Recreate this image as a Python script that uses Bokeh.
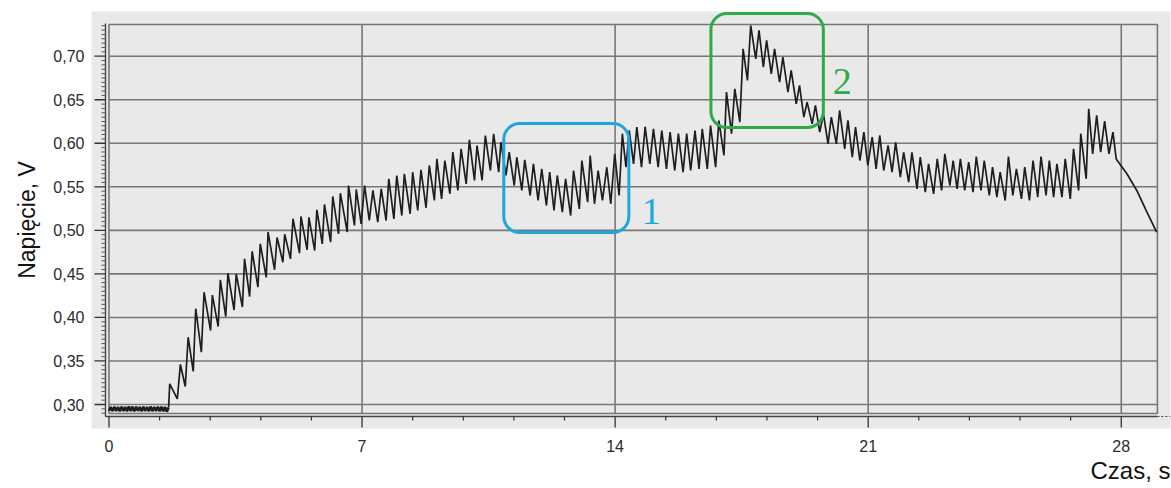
import math
from bokeh.plotting import figure
from bokeh.models import FixedTicker, Label, BoxAnnotation, Range1d, Title
from bokeh.embed import file_html
from bokeh.resources import INLINE

# ---------------- data ----------------
# quiet start, noisy flat band around 0.295 V
flat_t = [0.00, 0.05, 0.10, 0.15, 0.20, 0.25, 0.30, 0.35, 0.40, 0.45, 0.50, 0.55,
          0.60, 0.65, 0.70, 0.75, 0.80, 0.85, 0.90, 0.95, 1.00, 1.05, 1.10, 1.15,
          1.20, 1.25, 1.30, 1.35, 1.40, 1.45, 1.50, 1.55, 1.60, 1.65]
flat_v = [0.2928, 0.2972, 0.2924, 0.2975, 0.2926, 0.2971, 0.2922, 0.2974, 0.2925, 0.2972,
          0.2923, 0.2976, 0.2926, 0.2973, 0.2922, 0.2975, 0.2927, 0.2971, 0.2923, 0.2974,
          0.2925, 0.2972, 0.2922, 0.2976, 0.2924, 0.2972, 0.2926, 0.2974, 0.2922, 0.2973,
          0.2924, 0.2971, 0.2918, 0.2965]

# sawtooth part: alternating peaks and troughs
saw_t = [1.68, 1.89, 1.975, 2.11, 2.19, 2.33, 2.40, 2.555, 2.63, 2.81, 2.86, 3.02,
         3.08, 3.23, 3.29, 3.46, 3.52, 3.69, 3.75, 3.89, 3.96, 4.12, 4.185, 4.35,
         4.40, 4.58, 4.65, 4.81, 4.86, 5.02, 5.09, 5.27, 5.31, 5.48, 5.53, 5.69,
         5.75, 5.90, 5.96, 6.13, 6.19, 6.35, 6.40, 6.59, 6.625, 6.79, 6.84, 6.975,
         7.07, 7.20, 7.30, 7.435, 7.53, 7.666, 7.74, 7.88, 7.96, 8.10, 8.17, 8.33,
         8.40, 8.54, 8.63, 8.77, 8.86, 9.00, 9.07, 9.20, 9.29, 9.43, 9.51, 9.65,
         9.74, 9.88, 9.97, 10.11, 10.18, 10.32, 10.41, 10.55, 10.64, 10.78, 10.84, 10.98,
         11.07, 11.21, 11.28, 11.42, 11.50, 11.65, 11.74, 11.87, 11.97, 12.10, 12.19, 12.31,
         12.40, 12.54, 12.63, 12.77, 12.85, 13.01, 13.08, 13.24, 13.31, 13.43, 13.53, 13.65,
         13.77, 13.88, 13.99, 14.11, 14.20, 14.30, 14.39, 14.51, 14.60, 14.73, 14.83, 14.96,
         15.06, 15.19, 15.29, 15.42, 15.52, 15.65, 15.75, 15.88, 15.98, 16.09, 16.21, 16.32,
         16.41, 16.55, 16.64, 16.78, 16.87, 17.01, 17.08, 17.22, 17.31, 17.45, 17.54, 17.66,
         17.75, 17.89, 17.98, 18.10, 18.19, 18.32, 18.41, 18.55, 18.64, 18.78, 18.87, 19.01,
         19.10, 19.22, 19.31, 19.45, 19.54, 19.66, 19.76, 19.89, 19.98, 20.12, 20.21, 20.35,
         20.44, 20.56, 20.65, 20.77, 20.88, 20.99, 21.11, 21.22, 21.32, 21.43, 21.55, 21.66,
         21.76, 21.89, 21.98, 22.12, 22.21, 22.35, 22.44, 22.58, 22.67, 22.81, 22.91, 23.03,
         23.12, 23.26, 23.35, 23.46, 23.55, 23.67, 23.78, 23.90, 23.99, 24.12, 24.21, 24.35,
         24.44, 24.56, 24.65, 24.79, 24.88, 25.00, 25.10, 25.24, 25.33, 25.46, 25.56, 25.69,
         25.78, 25.92, 26.01, 26.13, 26.22, 26.36, 26.45, 26.59, 26.68, 26.82, 26.88, 27.03,
         27.10, 27.21, 27.32, 27.43, 27.54, 27.66, 27.77, 27.86, 28.16, 28.43, 28.71, 28.98]
saw_v = [0.3238, 0.3065, 0.3460, 0.3207, 0.3773, 0.3380, 0.4100, 0.3600, 0.4290, 0.3850, 0.4256, 0.3896,
         0.4430, 0.4010, 0.4508, 0.4085, 0.4500, 0.4120, 0.4673, 0.4240, 0.4760, 0.4347, 0.4845, 0.4460,
         0.4980, 0.4547, 0.4918, 0.4634, 0.4956, 0.4672, 0.5133, 0.4738, 0.5160, 0.4776, 0.5150, 0.4768,
         0.5236, 0.4845, 0.5297, 0.4864, 0.5389, 0.4960, 0.5427, 0.4980, 0.5515, 0.5056, 0.5470, 0.5075,
         0.5515, 0.5113, 0.5458, 0.5094, 0.5477, 0.5113, 0.5592, 0.5132, 0.5630, 0.5170, 0.5650, 0.5190,
         0.5668, 0.5228, 0.5695, 0.5259, 0.5745, 0.5343, 0.5822, 0.5362, 0.5802, 0.5420, 0.5898, 0.5458,
         0.5937, 0.5534, 0.6040, 0.5573, 0.5974, 0.5573, 0.6089, 0.5687, 0.6109, 0.5668, 0.6013, 0.5630,
         0.5898, 0.5515, 0.5840, 0.5458, 0.5810, 0.5400, 0.5764, 0.5343, 0.5707, 0.5285, 0.5668, 0.5228,
         0.5630, 0.5209, 0.5592, 0.5170, 0.5687, 0.5247, 0.5802, 0.5323, 0.5860, 0.5305, 0.5687, 0.5343,
         0.5725, 0.5305, 0.5880, 0.5401, 0.6110, 0.5725, 0.6147, 0.5764, 0.6185, 0.5725, 0.6190, 0.5764,
         0.6166, 0.5725, 0.6147, 0.5706, 0.6128, 0.5687, 0.6110, 0.5668, 0.6110, 0.5687, 0.6147, 0.5706,
         0.6166, 0.5706, 0.6204, 0.5725, 0.6260, 0.5860, 0.6587, 0.6110, 0.6625, 0.6243, 0.7085, 0.6721,
         0.7353, 0.6970, 0.7296, 0.6874, 0.7181, 0.6798, 0.7085, 0.6702, 0.6990, 0.6587, 0.6837, 0.6453,
         0.6664, 0.6300, 0.6472, 0.6223, 0.6434, 0.6128, 0.6339, 0.5994, 0.6300, 0.5994, 0.6377, 0.5936,
         0.6262, 0.5840, 0.6185, 0.5802, 0.6128, 0.5745, 0.6070, 0.5707, 0.6090, 0.5687, 0.5975, 0.5668,
         0.6010, 0.5610, 0.5897, 0.5553, 0.5897, 0.5477, 0.5840, 0.5438, 0.5764, 0.5419, 0.5820, 0.5458,
         0.5878, 0.5515, 0.5802, 0.5477, 0.5820, 0.5458, 0.5783, 0.5438, 0.5848, 0.5458, 0.5802, 0.5401,
         0.5726, 0.5381, 0.5668, 0.5343, 0.5848, 0.5401, 0.5707, 0.5362, 0.5726, 0.5343, 0.5802, 0.5381,
         0.5848, 0.5401, 0.5802, 0.5381, 0.5764, 0.5381, 0.5820, 0.5362, 0.5936, 0.5458, 0.6110, 0.5592,
         0.6396, 0.5878, 0.6320, 0.5897, 0.6255, 0.5878, 0.6128, 0.5820, 0.5647, 0.5458, 0.5209, 0.4979]

x_major = [0, 7, 14, 21, 28]
x_major_labels = ["0", "7", "14", "21", "28"]
y_major = [0.30, 0.35, 0.40, 0.45, 0.50, 0.55, 0.60, 0.65, 0.70]
y_major_labels = ["0,30", "0,35", "0,40", "0,45", "0,50", "0,55", "0,60", "0,65", "0,70"]
x_title = "Czas, s"
y_title = "Napięcie, V"

# ---------------- layout constants ----------------
XR = (-0.4836, 29.362)        # grey panel extent, time
YR = (0.27244, 0.75133)       # grey panel extent, volts
FR_L, FR_R, FR_B, FR_T = 0.0, 29.0, 0.2897, 0.7364   # inner frame
AX_Y = 0.28622                # x-axis line level
AX_X = -0.0967                # y-axis line position

GRID = "#777777"
INK = "#1e1e1e"
TXT = "#2b2b2b"

p = figure(width=1171, height=488,
           min_border_left=90, min_border_top=11, min_border_right=1, min_border_bottom=60,
           x_range=Range1d(*XR), y_range=Range1d(*YR),
           output_backend="svg", toolbar_location=None, tools="")
p.background_fill_color = "#e9e9e9"
p.border_fill_color = "white"
p.outline_line_color = None
p.xgrid.grid_line_color = None
p.ygrid.grid_line_color = None

# axes: labels only
p.xaxis.ticker = FixedTicker(ticks=x_major)
p.xaxis.major_label_overrides = {k: s for k, s in zip(x_major, x_major_labels)}
p.yaxis.ticker = FixedTicker(ticks=y_major)
p.yaxis.major_label_overrides = {k: s for k, s in zip(y_major, y_major_labels)}
for ax in (p.xaxis[0], p.yaxis[0]):
    ax.axis_line_color = None
    ax.major_tick_line_color = None
    ax.minor_tick_line_color = None
    ax.major_tick_out = 0
    ax.major_tick_in = 0
    ax.minor_tick_out = 0
    ax.major_label_text_font = "Liberation Sans"
    ax.major_label_text_font_size = "16px"
    ax.major_label_text_color = TXT
p.xaxis.major_label_standoff = 11
p.yaxis.major_label_standoff = 7

# axis titles
p.add_layout(Title(text=x_title, align="right", text_font="Liberation Sans",
                   text_font_size="24px", text_font_style="normal",
                   text_color="#111111", standoff=0), "below")
p.add_layout(Title(text=y_title, align="center", text_font="Liberation Sans",
                   text_font_size="23px", text_font_style="normal",
                   text_color="#111111", standoff=22, offset=-10), "left")

# grid lines inside the inner frame
p.segment(x0=x_major[1:], y0=[FR_B] * 4, x1=x_major[1:], y1=[FR_T] * 4,
          line_color=GRID, line_width=1.6)
p.segment(x0=[FR_L] * len(y_major), y0=y_major, x1=[FR_R] * len(y_major), y1=y_major,
          line_color=GRID, line_width=1.6)
# inner frame
p.quad(left=[FR_L], right=[FR_R], bottom=[FR_B], top=[FR_T],
       fill_color=None, line_color=GRID, line_width=1.6)

# axis lines
p.segment(x0=[AX_X], y0=[AX_Y], x1=[AX_X], y1=[0.7375], line_color="#444444", line_width=1.4)
p.segment(x0=[AX_X], y0=[AX_Y], x1=[FR_R], y1=[AX_Y], line_color="#444444", line_width=1.4)
p.segment(x0=[FR_R], y0=[AX_Y], x1=[XR[1]], y1=[AX_Y], line_color="#444444",
          line_width=1.2, line_dash="2 2")

# tick marks
x_minor = [round(1.4 * k, 2) for k in range(1, 21) if k % 5 != 0]
y_minor = [round(0.29 + 0.005 * k, 3) for k in range(0, 90)]
y_minor = [y for y in y_minor if all(abs(y - m) > 1e-6 for m in y_major)]
p.segment(x0=x_major, y0=[AX_Y] * 5, x1=x_major, y1=[0.27359] * 5,
          line_color="#333333", line_width=1.3)
p.segment(x0=x_minor, y0=[AX_Y] * len(x_minor), x1=x_minor, y1=[0.28163] * len(x_minor),
          line_color="#333333", line_width=1.2)
p.segment(x0=[-0.4007] * len(y_major), y0=y_major, x1=[AX_X] * len(y_major), y1=y_major,
          line_color="#333333", line_width=1.3)
p.segment(x0=[-0.2073] * len(y_minor), y0=y_minor, x1=[AX_X] * len(y_minor), y1=y_minor,
          line_color="#555555", line_width=1.0)

# signal: noisy flat start (drawn as a dense band) and the sawtooth part
p.line(flat_t, flat_v, line_color=INK, line_width=2.6)
p.line(flat_t[-1:] + saw_t, flat_v[-1:] + saw_v, line_color=INK, line_width=1.7)

# highlight boxes
p.add_layout(BoxAnnotation(left=10.92, right=14.38, bottom=0.4975, top=0.6227,
                           fill_alpha=0, fill_color=None, line_color="#1ea6e0",
                           line_alpha=1.0, line_width=3, border_radius=16))
p.add_layout(BoxAnnotation(left=16.65, right=19.76, bottom=0.6181, top=0.749,
                           fill_alpha=0, fill_color=None, line_color="#2eaa4a",
                           line_alpha=1.0, line_width=3, border_radius=16))
p.add_layout(Label(x=14.74, y=0.5216, text="1", text_font="Liberation Serif",
                   text_font_size="38px", text_color="#1ea6e0",
                   text_align="left", text_baseline="alphabetic"))
p.add_layout(Label(x=20.02, y=0.6710, text="2", text_font="Liberation Serif",
                   text_font_size="38px", text_color="#2eaa4a",
                   text_align="left", text_baseline="alphabetic"))

open("out.html", "w").write(file_html(p, INLINE))
